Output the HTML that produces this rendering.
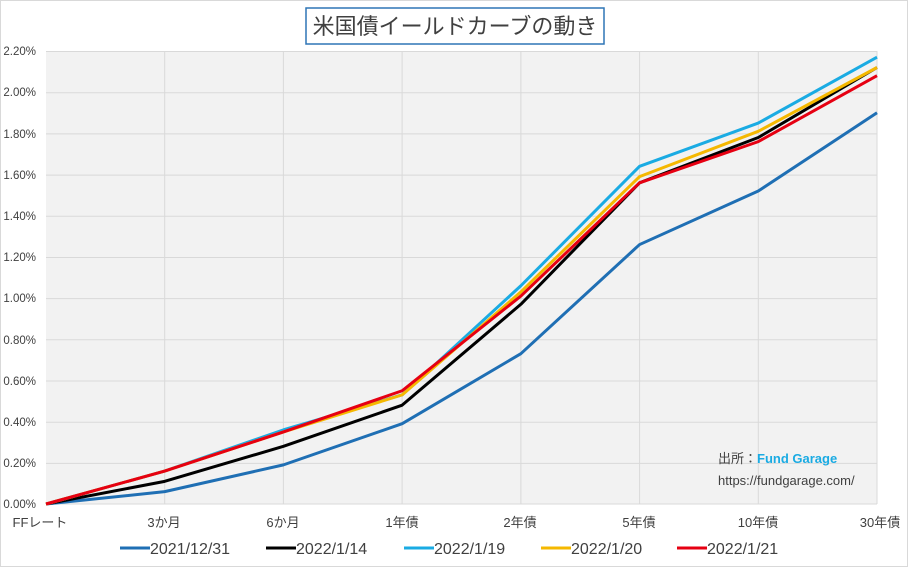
<!DOCTYPE html>
<html><head><meta charset="utf-8"><style>
body{margin:0;background:#fff}
svg{display:block;font-family:"Liberation Sans","Noto Sans CJK JP",sans-serif}
</style></head><body>
<svg width="908" height="567" viewBox="0 0 908 567">
<rect x="0.5" y="0.5" width="907" height="566" fill="#fff" stroke="#d9d9d9"/>
<rect x="306" y="8" width="298" height="36" fill="#fff" stroke="#2e75b6" stroke-width="1.5"/>
<text x="455" y="34" font-size="22" fill="#404040" text-anchor="middle">米国債イールドカーブの動き</text>
<rect x="46" y="51" width="831" height="453" fill="#f2f2f2"/>
<g stroke="#d9d9d9" stroke-width="1">
<line x1="46" x2="877" y1="51.5" y2="51.5"/><line x1="46" x2="877" y1="92.7" y2="92.7"/><line x1="46" x2="877" y1="133.9" y2="133.9"/><line x1="46" x2="877" y1="175.1" y2="175.1"/><line x1="46" x2="877" y1="216.3" y2="216.3"/><line x1="46" x2="877" y1="257.5" y2="257.5"/><line x1="46" x2="877" y1="298.6" y2="298.6"/><line x1="46" x2="877" y1="339.8" y2="339.8"/><line x1="46" x2="877" y1="381" y2="381"/><line x1="46" x2="877" y1="422.2" y2="422.2"/><line x1="46" x2="877" y1="463.4" y2="463.4"/><line x1="46" x2="877" y1="504" y2="504"/>
<line y1="51" y2="504" x1="164.7" x2="164.7"/><line y1="51" y2="504" x1="283.4" x2="283.4"/><line y1="51" y2="504" x1="402.1" x2="402.1"/><line y1="51" y2="504" x1="520.9" x2="520.9"/><line y1="51" y2="504" x1="639.6" x2="639.6"/><line y1="51" y2="504" x1="758.3" x2="758.3"/><line y1="51" y2="504" x1="877" x2="877"/>
</g>
<g font-size="11.5" fill="#404040" text-anchor="end">
<text x="36" y="55">2.20%</text><text x="36" y="96">2.00%</text><text x="36" y="138">1.80%</text><text x="36" y="179">1.60%</text><text x="36" y="220">1.40%</text><text x="36" y="261">1.20%</text><text x="36" y="302">1.00%</text><text x="36" y="344">0.80%</text><text x="36" y="385">0.60%</text><text x="36" y="426">0.40%</text><text x="36" y="467">0.20%</text><text x="36" y="508">0.00%</text>
</g>
<g font-size="13" fill="#404040" text-anchor="middle">
<text x="40" y="527">FFレート</text><text x="164" y="527">3か月</text><text x="283" y="527">6か月</text><text x="402" y="527">1年債</text><text x="520" y="527">2年債</text><text x="639" y="527">5年債</text><text x="758" y="527">10年債</text><text x="880" y="527">30年債</text>
</g>
<g transform="translate(46,504) scale(118.714,-205.9)" fill="none" stroke-width="3" stroke-linejoin="round">
<polyline vector-effect="non-scaling-stroke" stroke="#1f6fb4" points="0,0 1,0.06 2,0.19 3,0.39 4,0.73 5,1.26 6,1.52 7,1.90"/>
<polyline vector-effect="non-scaling-stroke" stroke="#000" points="0,0 1,0.11 2,0.28 3,0.48 4,0.97 5,1.56 6,1.78 7,2.12"/>
<polyline vector-effect="non-scaling-stroke" stroke="#1aabe3" points="0,0 1,0.16 2,0.36 3,0.53 4,1.06 5,1.64 6,1.85 7,2.17"/>
<polyline vector-effect="non-scaling-stroke" stroke="#f5b800" points="0,0 1,0.16 2,0.35 3,0.53 4,1.03 5,1.59 6,1.81 7,2.12"/>
<polyline vector-effect="non-scaling-stroke" stroke="#e60012" points="0,0 1,0.16 2,0.35 3,0.55 4,1.01 5,1.56 6,1.76 7,2.08"/>
</g>
<text x="718" y="463" font-size="13" fill="#404040">出所：<tspan fill="#1aabe3" font-weight="bold">Fund Garage</tspan></text>
<text x="718" y="485" font-size="13" fill="#404040">https://fundgarage.com/</text>
<g font-size="16" fill="#404040">
<line x1="120" x2="150" y1="548" y2="548" stroke="#1f6fb4" stroke-width="3"/><text x="150" y="554">2021/12/31</text>
<line x1="266" x2="296" y1="548" y2="548" stroke="#000" stroke-width="3"/><text x="296" y="554">2022/1/14</text>
<line x1="404" x2="434" y1="548" y2="548" stroke="#1aabe3" stroke-width="3"/><text x="434" y="554">2022/1/19</text>
<line x1="541" x2="571" y1="548" y2="548" stroke="#f5b800" stroke-width="3"/><text x="571" y="554">2022/1/20</text>
<line x1="677" x2="707" y1="548" y2="548" stroke="#e60012" stroke-width="3"/><text x="707" y="554">2022/1/21</text>
</g>
</svg>
</body></html>
